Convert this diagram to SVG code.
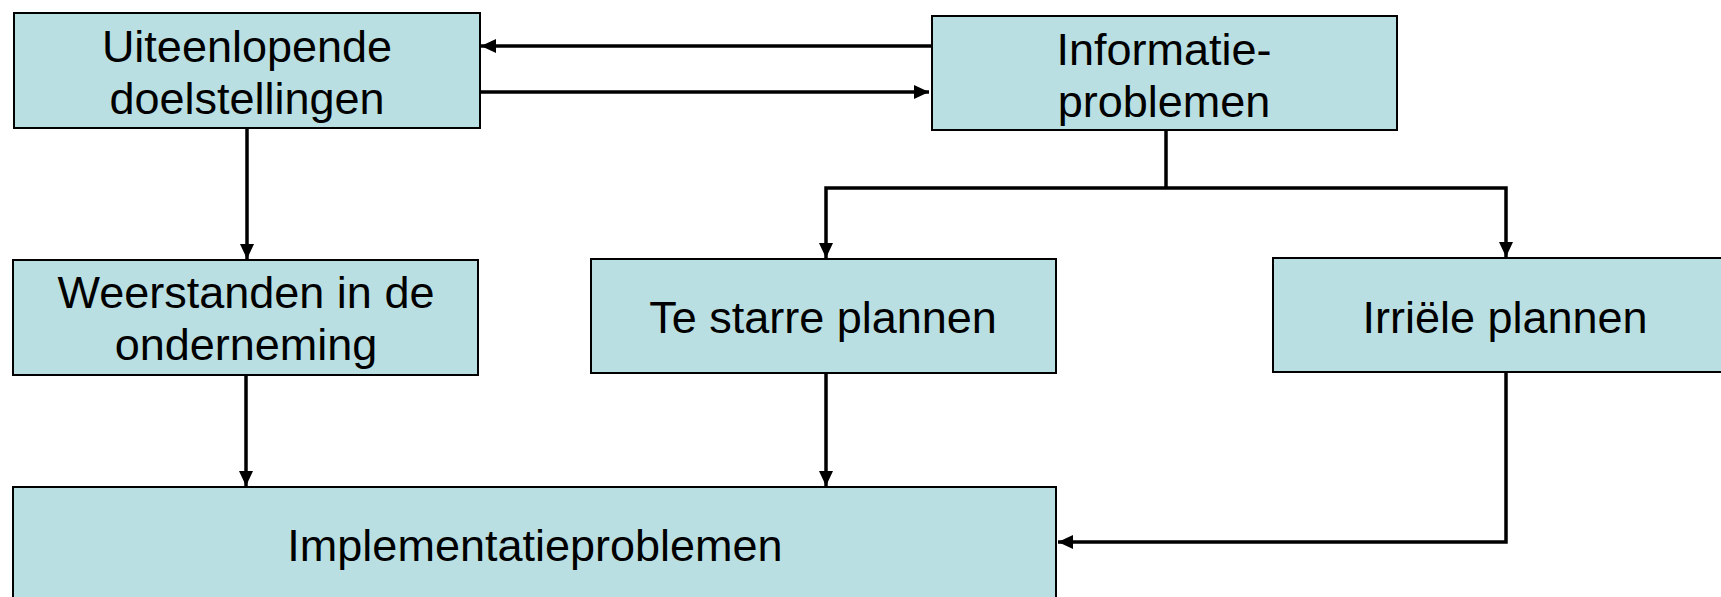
<svg xmlns="http://www.w3.org/2000/svg" width="1721" height="597" viewBox="0 0 1721 597">
  <style>
    .box { fill: #b9dfe2; stroke: #000; stroke-width: 2; }
    .lbl { font-family: "Liberation Sans", Arial, sans-serif; font-size: 45px; fill: #000; text-anchor: middle; }
    .wire { fill: none; stroke: #000; stroke-width: 3.5; }
  </style>
  <defs>
    <marker id="head" markerUnits="userSpaceOnUse" markerWidth="16" markerHeight="14" refX="15" refY="7" orient="auto">
      <path d="M0,0 L15,7 L0,14 Z" fill="#000"/>
    </marker>
  </defs>

  <rect width="1721" height="597" fill="#fff"/>

  <!-- connectors -->
  <g id="connectors">
    <line class="wire" x1="932" y1="46" x2="481" y2="46" marker-end="url(#head)"/>
    <line class="wire" x1="480" y1="92" x2="929" y2="92" marker-end="url(#head)"/>
    <line class="wire" x1="247" y1="128" x2="247" y2="259" marker-end="url(#head)"/>
    <polyline class="wire" points="1166,130 1166,188"/>
    <polyline class="wire" points="1166,188 826,188 826,258" marker-end="url(#head)"/>
    <polyline class="wire" points="1166,188 1506,188 1506,257" marker-end="url(#head)"/>
    <line class="wire" x1="246" y1="375" x2="246" y2="486" marker-end="url(#head)"/>
    <line class="wire" x1="826" y1="373" x2="826" y2="486" marker-end="url(#head)"/>
    <polyline class="wire" points="1506,372 1506,542 1058,542" marker-end="url(#head)"/>
  </g>

  <g id="node-doelstellingen">
    <rect class="box" x="14" y="13" width="466" height="115"/>
    <text class="lbl" x="247" y="62">Uiteenlopende</text>
    <text class="lbl" x="247" y="114">doelstellingen</text>
  </g>

  <g id="node-informatie">
    <rect class="box" x="932" y="16" width="465" height="114"/>
    <text class="lbl" x="1164" y="65">Informatie-</text>
    <text class="lbl" x="1164" y="117">problemen</text>
  </g>

  <g id="node-weerstanden">
    <rect class="box" x="13" y="260" width="465" height="115"/>
    <text class="lbl" x="246" y="308">Weerstanden in de</text>
    <text class="lbl" x="246" y="360">onderneming</text>
  </g>

  <g id="node-starre">
    <rect class="box" x="591" y="259" width="465" height="114"/>
    <text class="lbl" x="823" y="333">Te starre plannen</text>
  </g>

  <g id="node-irreel">
    <rect class="box" x="1273" y="258" width="465" height="114"/>
    <text class="lbl" x="1505" y="333">Irriële plannen</text>
  </g>

  <g id="node-implementatie">
    <rect class="box" x="13" y="487" width="1043" height="130"/>
    <text class="lbl" x="535" y="561">Implementatieproblemen</text>
  </g>
</svg>
